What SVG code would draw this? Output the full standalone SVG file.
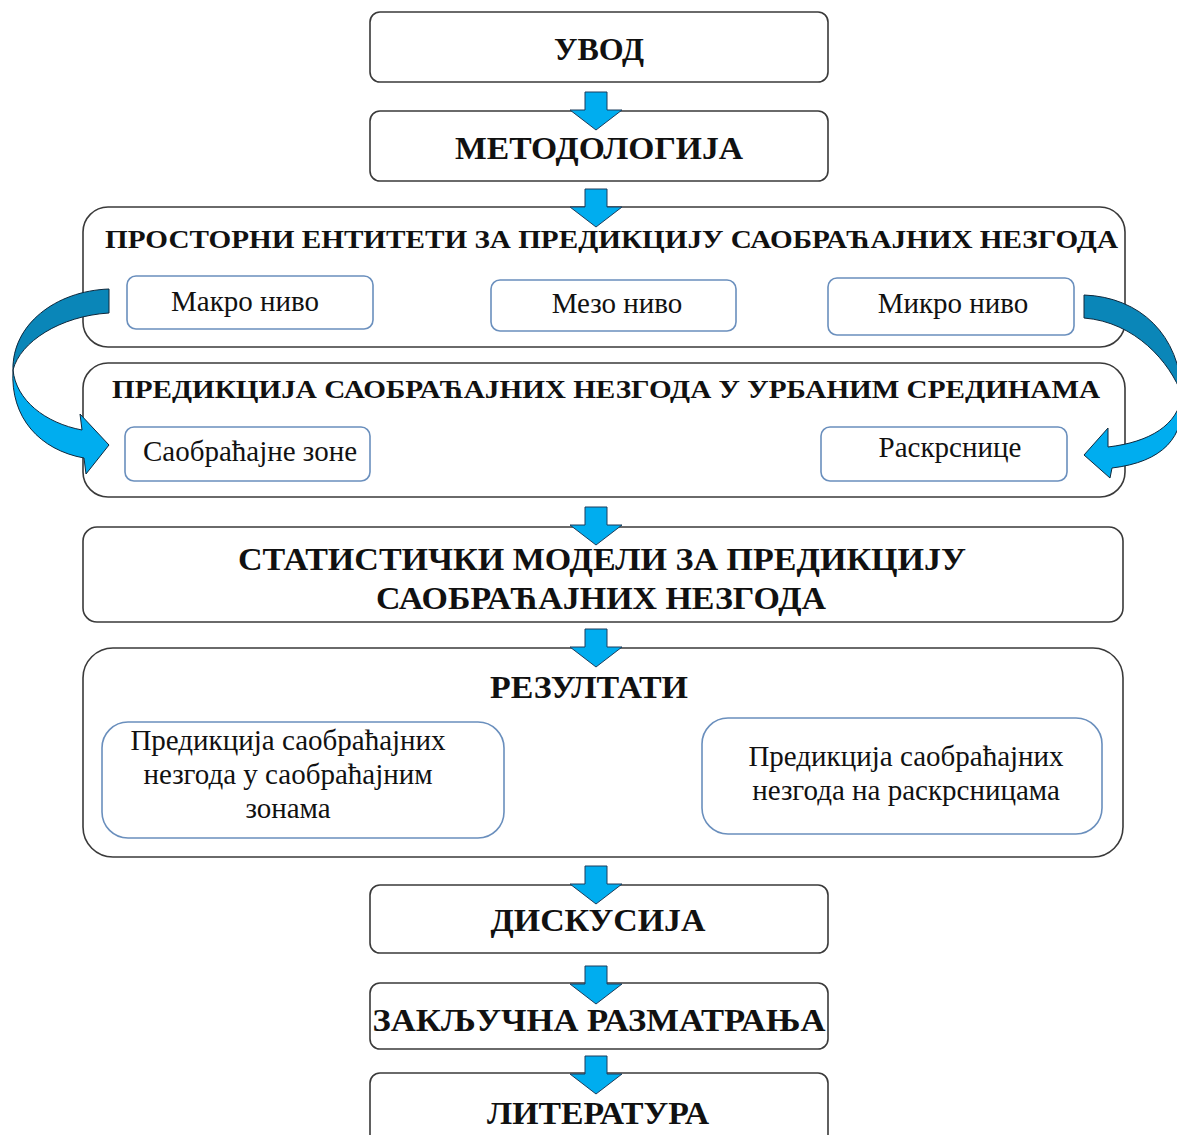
<svg xmlns="http://www.w3.org/2000/svg" width="1177" height="1135" viewBox="0 0 1177 1135">
  <style>
    .box { fill: #ffffff; stroke: #3a3a3a; stroke-width: 1.6; }
    .sub { fill: #ffffff; stroke: #6a8fbd; stroke-width: 1.6; }
    .h { font-family: "Liberation Serif", "Times New Roman", serif; font-weight: bold; fill: #111; }
    .t { font-family: "Liberation Serif", "Times New Roman", serif; font-size: 29px; fill: #111; text-anchor: middle; }
    .c { text-anchor: middle; }
    .down { fill: #00adef; stroke: #1d3d5c; stroke-width: 1; stroke-linejoin: miter; }
    .back { fill: #0a86b8; stroke: #10283c; stroke-width: 1; }
    .front { fill: #00adef; stroke: #10283c; stroke-width: 1; }
  </style>
  <defs>
    <!-- block arrow pointing down, origin at shaft top centre -->
    <path id="dn" d="M-11,0 H11 V18 H26 L0,38 L-26,18 H-11 Z"/>
  </defs>

  <g id="n-uvod">
    <rect class="box" x="370" y="12" width="458" height="70" rx="10"/>
    <text class="h c" x="599" y="60" font-size="32">УВОД</text>
  </g>

  <g id="n-metodologija">
    <rect class="box" x="370" y="111" width="458" height="70" rx="10"/>
    <text class="h c" x="599" y="159" font-size="32" textLength="288" lengthAdjust="spacingAndGlyphs">МЕТОДОЛОГИЈА</text>
  </g>

  <g id="n-prostorni">
    <rect class="box" x="83" y="207" width="1042" height="140" rx="25"/>
    <text class="h" x="105" y="248" font-size="26" textLength="1013" lengthAdjust="spacingAndGlyphs">ПРОСТОРНИ ЕНТИТЕТИ ЗА ПРЕДИКЦИЈУ САОБРАЋАЈНИХ НЕЗГОДА</text>
    <g id="n-makro">
      <rect class="sub" x="127" y="276" width="246" height="53" rx="9"/>
      <text class="t" x="245" y="311">Макро ниво</text>
    </g>
    <g id="n-mezo">
      <rect class="sub" x="491" y="280" width="245" height="51" rx="9"/>
      <text class="t" x="617" y="313">Мезо ниво</text>
    </g>
    <g id="n-mikro">
      <rect class="sub" x="828" y="278" width="246" height="57" rx="9"/>
      <text class="t" x="953" y="313">Микро ниво</text>
    </g>
  </g>

  <g id="n-predikcija-urb">
    <rect class="box" x="83" y="363" width="1042" height="134" rx="25"/>
    <text class="h" x="112" y="398" font-size="25" textLength="988" lengthAdjust="spacingAndGlyphs">ПРЕДИКЦИЈА САОБРАЋАЈНИХ НЕЗГОДА У УРБАНИМ СРЕДИНАМА</text>
    <g id="n-zone">
      <rect class="sub" x="125" y="427" width="245" height="54" rx="9"/>
      <text class="t" x="250" y="461">Саобраћајне зоне</text>
    </g>
    <g id="n-raskrsnice">
      <rect class="sub" x="821" y="427" width="246" height="54" rx="9"/>
      <text class="t" x="950" y="457">Раскрснице</text>
    </g>
  </g>

  <g id="n-statisticki">
    <rect class="box" x="83" y="527" width="1040" height="95" rx="14"/>
    <text class="h c" x="602" y="570" font-size="32" textLength="728" lengthAdjust="spacingAndGlyphs">СТАТИСТИЧКИ МОДЕЛИ ЗА ПРЕДИКЦИЈУ</text>
    <text class="h c" x="601" y="609" font-size="32" textLength="450" lengthAdjust="spacingAndGlyphs">САОБРАЋАЈНИХ НЕЗГОДА</text>
  </g>

  <g id="n-rezultati">
    <rect class="box" x="83" y="648" width="1040" height="209" rx="30"/>
    <text class="h c" x="589" y="698" font-size="32" textLength="198" lengthAdjust="spacingAndGlyphs">РЕЗУЛТАТИ</text>
    <g id="n-rez-zone">
      <rect class="sub" x="102" y="722" width="402" height="116" rx="26"/>
      <text class="t" x="288" y="750">Предикција саобраћајних</text>
      <text class="t" x="288" y="784">незгода у саобраћајним</text>
      <text class="t" x="288" y="818">зонама</text>
    </g>
    <g id="n-rez-raskrsnice">
      <rect class="sub" x="702" y="718" width="400" height="116" rx="26"/>
      <text class="t" x="906" y="766">Предикција саобраћајних</text>
      <text class="t" x="906" y="800">незгода на раскрсницама</text>
    </g>
  </g>

  <g id="n-diskusija">
    <rect class="box" x="370" y="885" width="458" height="68" rx="10"/>
    <text class="h c" x="598" y="931" font-size="32" textLength="215" lengthAdjust="spacingAndGlyphs">ДИСКУСИЈА</text>
  </g>

  <g id="n-zakljucna">
    <rect class="box" x="370" y="983" width="458" height="66" rx="10"/>
    <text class="h c" x="599" y="1031" font-size="32" textLength="453" lengthAdjust="spacingAndGlyphs">ЗАКЉУЧНА РАЗМАТРАЊА</text>
  </g>

  <g id="n-literatura">
    <rect class="box" x="370" y="1073" width="458" height="80" rx="10"/>
    <text class="h c" x="598" y="1124" font-size="32" textLength="222" lengthAdjust="spacingAndGlyphs">ЛИТЕРАТУРА</text>
  </g>

  <g id="connectors">
    <use href="#dn" class="down" x="596" y="92"/>
    <use href="#dn" class="down" x="596" y="189"/>
    <use href="#dn" class="down" x="596" y="507"/>
    <use href="#dn" class="down" x="596" y="629"/>
    <use href="#dn" class="down" x="596" y="866"/>
    <use href="#dn" class="down" x="596" y="966"/>
    <use href="#dn" class="down" x="596" y="1056"/>

    <!-- curved arrow: Макро ниво to Саобраћајне зоне -->
    <path class="back" d="M109,289 C55,291 12,325 13,370 C20,342 60,316 109,313 Z"/>
    <path class="front" d="M13,370 C16,400 45,423 82,430 L80,414 L109,445 L86,474 L84,458 C40,450 10,418 13,370 Z"/>

    <!-- curved arrow: Микро ниво to Раскрснице -->
    <path class="back" d="M1084,295 C1140,297 1180,335 1182,395 C1170,362 1135,322 1084,318 Z"/>
    <path class="front" d="M1182,395 C1178,425 1150,442 1108,447 L1108,428 L1084,455 L1110,478 L1112,468 C1162,462 1186,438 1182,395 Z"/>
  </g>
</svg>
